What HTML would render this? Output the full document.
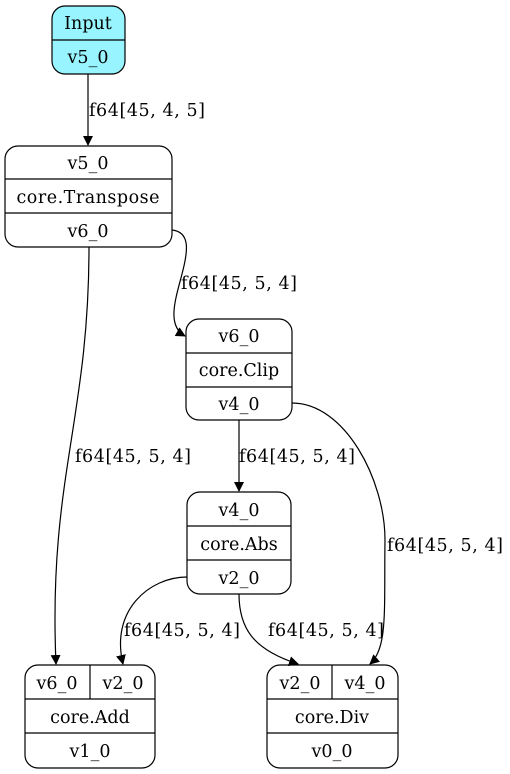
<!DOCTYPE html>
<html><head><meta charset="utf-8"><style>
html,body{margin:0;padding:0;background:#fff;}
svg{display:block;}
text{font-family:"DejaVu Serif","Liberation Serif",serif;font-size:17.5px;fill:#000;}
</style></head><body>
<svg width="510" height="774" viewBox="0 0 510 774" xmlns="http://www.w3.org/2000/svg">
<defs><marker id="a" markerWidth="10" markerHeight="10" refX="9" refY="5" orient="auto" markerUnits="userSpaceOnUse"><path d="M0,0 L10,5 L0,10 z" fill="#000"/></marker></defs>
<g fill="none" stroke="#000" stroke-width="1.2">
<rect x="52" y="6" width="73" height="68" rx="13" fill="#98f5ff"/>
<line x1="52" y1="40" x2="125" y2="40"/>
<rect x="5" y="146" width="167" height="101" rx="13" fill="#fff"/>
<line x1="5" y1="179" x2="172" y2="179"/><line x1="5" y1="213" x2="172" y2="213"/>
<rect x="186" y="319" width="106" height="101" rx="13" fill="#fff"/>
<line x1="186" y1="353" x2="292" y2="353"/><line x1="186" y1="387" x2="292" y2="387"/>
<rect x="187" y="492" width="104" height="102" rx="13" fill="#fff"/>
<line x1="187" y1="526" x2="291" y2="526"/><line x1="187" y1="560" x2="291" y2="560"/>
<rect x="25" y="665" width="130" height="103" rx="13" fill="#fff"/>
<line x1="25" y1="699" x2="155" y2="699"/><line x1="25" y1="733" x2="155" y2="733"/><line x1="90" y1="665" x2="90" y2="699"/>
<rect x="267" y="665" width="131" height="103" rx="13" fill="#fff"/>
<line x1="267" y1="699" x2="398" y2="699"/><line x1="267" y1="733" x2="398" y2="733"/><line x1="332" y1="665" x2="332" y2="699"/>
<path d="M88,74 L88,145" marker-end="url(#a)"/>
<path d="M172,230 C190,232 188,250 183,270 C177,295 165,325 185,336" marker-end="url(#a)"/>
<path d="M89,247 C89,420 48,480 56,664" marker-end="url(#a)"/>
<path d="M239,420 L239,491" marker-end="url(#a)"/>
<path d="M292,403 C345,403 385,480 385,540 C384,610 388,648 370,664" marker-end="url(#a)"/>
<path d="M187,577 C150,577 110,610 123,664" marker-end="url(#a)"/>
<path d="M239,594 C239,630 255,650 298,664" marker-end="url(#a)"/>
</g>
<g text-anchor="middle">
<text x="88" y="29">Input</text><text x="88" y="63">v5_0</text>
<text x="88" y="169">v5_0</text><text x="88" y="203" textLength="143">core.Transpose</text><text x="88" y="237">v6_0</text>
<text x="239" y="342">v6_0</text><text x="239" y="376">core.Clip</text><text x="239" y="410">v4_0</text>
<text x="239" y="516">v4_0</text><text x="239" y="550">core.Abs</text><text x="239" y="584">v2_0</text>
<text x="57" y="689">v6_0</text><text x="123" y="689">v2_0</text><text x="90" y="723">core.Add</text><text x="90" y="757">v1_0</text>
<text x="300" y="689">v2_0</text><text x="365" y="689">v4_0</text><text x="332" y="723">core.Div</text><text x="332" y="757">v0_0</text>
</g>
<text x="89" y="116" textLength="116">f64[45, 4, 5]</text>
<text x="181" y="289" textLength="116">f64[45, 5, 4]</text>
<text x="75" y="462" textLength="116">f64[45, 5, 4]</text>
<text x="239" y="462" textLength="116">f64[45, 5, 4]</text>
<text x="387" y="551" textLength="116">f64[45, 5, 4]</text>
<text x="124" y="636" textLength="116">f64[45, 5, 4]</text>
<text x="268" y="636" textLength="116">f64[45, 5, 4]</text>
</svg>
</body></html>
